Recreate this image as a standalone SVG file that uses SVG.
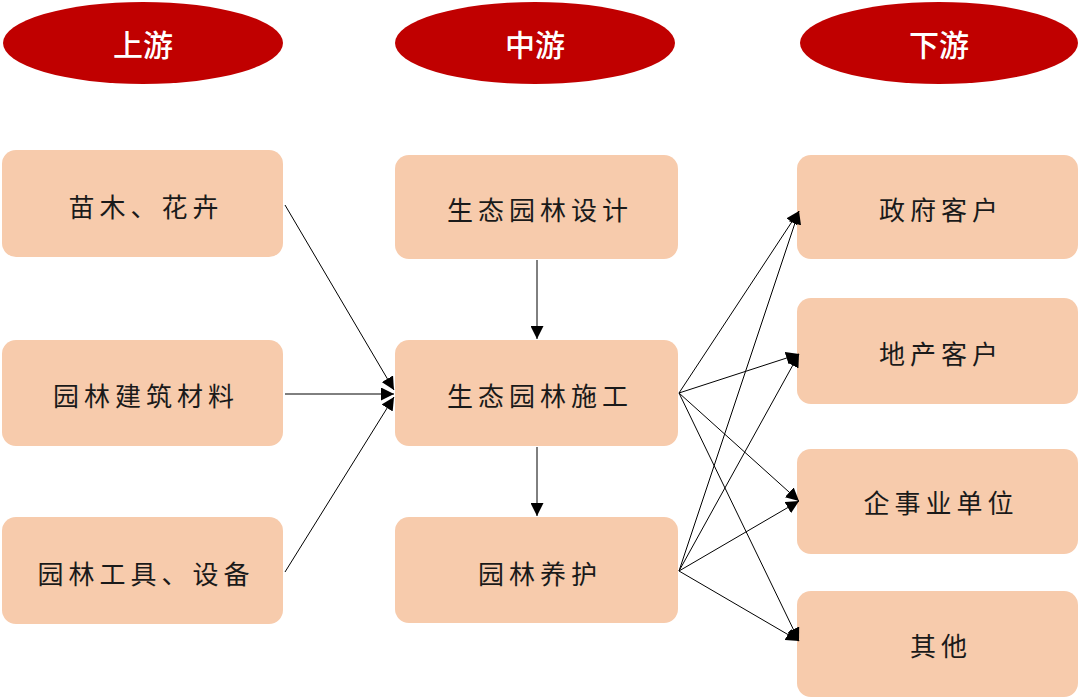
<svg xmlns="http://www.w3.org/2000/svg" width="1080" height="697" viewBox="0 0 1080 697">
<defs>
<style>
.hdr{fill:#c00000}
.hdrt{fill:#ffffff;font-family:"Noto Sans CJK SC","Noto Sans",sans-serif;font-size:30px;font-weight:500;text-anchor:middle;dominant-baseline:central}
.box{fill:#f7cbac}
.lbl{fill:#1a1a1a;font-family:"Noto Sans CJK SC","Noto Sans",sans-serif;font-size:26px;letter-spacing:5px;text-anchor:middle;dominant-baseline:central}
.c{stroke:#000;stroke-width:1;fill:none;marker-end:url(#ah)}
</style>
<marker id="ah" viewBox="0 0 10 10" refX="10" refY="5" markerWidth="13" markerHeight="13" markerUnits="userSpaceOnUse" orient="auto">
<path d="M0,0 L10,5 L0,10 z" fill="#000"/>
</marker>
</defs>
<rect width="1080" height="697" fill="#fff"/>
<g id="h-up"><ellipse class="hdr" cx="143" cy="43" rx="140" ry="41"/><text class="hdrt" x="143" y="43">上游</text></g>
<g id="h-mid"><ellipse class="hdr" cx="535" cy="43" rx="140" ry="41"/><text class="hdrt" x="535" y="43">中游</text></g>
<g id="h-down"><ellipse class="hdr" cx="939" cy="43" rx="139" ry="41"/><text class="hdrt" x="939" y="43">下游</text></g>

<g id="u1"><rect class="box" x="2" y="150" width="281" height="107" rx="14"/><text class="lbl" x="146" y="205">苗木、花卉</text></g>
<g id="u2"><rect class="box" x="2" y="340" width="281" height="106" rx="14"/><text class="lbl" x="146" y="394">园林建筑材料</text></g>
<g id="u3"><rect class="box" x="2" y="517" width="281" height="107" rx="14"/><text class="lbl" x="146" y="572">园林工具、设备</text></g>

<g id="m1"><rect class="box" x="395" y="155" width="283" height="104" rx="14"/><text class="lbl" x="540" y="208">生态园林设计</text></g>
<g id="m2"><rect class="box" x="395" y="340" width="283" height="106" rx="14"/><text class="lbl" x="540" y="394">生态园林施工</text></g>
<g id="m3"><rect class="box" x="395" y="517" width="283" height="106" rx="14"/><text class="lbl" x="540" y="572">园林养护</text></g>

<g id="d1"><rect class="box" x="797" y="155" width="281" height="104" rx="14"/><text class="lbl" x="941" y="208">政府客户</text></g>
<g id="d2"><rect class="box" x="797" y="298" width="281" height="106" rx="14"/><text class="lbl" x="941" y="352">地产客户</text></g>
<g id="d3"><rect class="box" x="797" y="449" width="281" height="105" rx="14"/><text class="lbl" x="941" y="501">企事业单位</text></g>
<g id="d4"><rect class="box" x="797" y="591" width="281" height="106" rx="14"/><text class="lbl" x="941" y="644">其他</text></g>

<g id="connectors">
<line class="c" x1="285" y1="205" x2="394" y2="390"/>
<line class="c" x1="285" y1="394" x2="394" y2="394"/>
<line class="c" x1="285" y1="572" x2="394" y2="397"/>
<line class="c" x1="537" y1="260" x2="537" y2="339"/>
<line class="c" x1="537" y1="447" x2="537" y2="516"/>
<line class="c" x1="679" y1="393" x2="799" y2="211"/>
<line class="c" x1="679" y1="393" x2="799" y2="354"/>
<line class="c" x1="679" y1="393" x2="799" y2="501"/>
<line class="c" x1="679" y1="393" x2="799" y2="641"/>
<line class="c" x1="679" y1="571" x2="799" y2="211"/>
<line class="c" x1="679" y1="571" x2="799" y2="354"/>
<line class="c" x1="679" y1="571" x2="799" y2="501"/>
<line class="c" x1="679" y1="571" x2="799" y2="641"/>
</g>
</svg>
